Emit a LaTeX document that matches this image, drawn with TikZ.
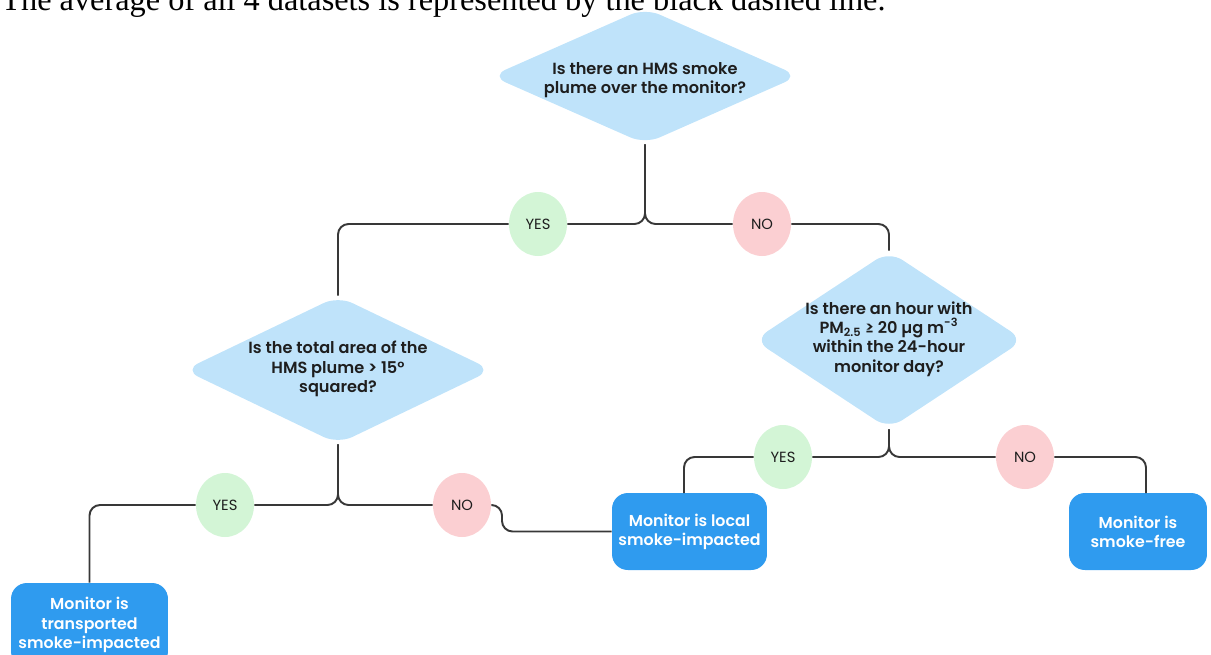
\documentclass[tikz,border=0pt]{standalone}
\usepackage{fontspec}
\setmainfont{Poppins}[BoldFont={Poppins SemiBold}]
\newfontfamily\serifA{Liberation Serif}
\usetikzlibrary{shapes.geometric}
\definecolor{diac}{HTML}{BFE3FA}
\definecolor{boxc}{HTML}{2F9BEF}
\definecolor{yesc}{HTML}{D3F5D6}
\definecolor{noc}{HTML}{FBCFD2}
\definecolor{lnc}{HTML}{383838}
\definecolor{txtc}{HTML}{1E1E1E}
\begin{document}
\begin{tikzpicture}[x=0.02cm,y=-0.02cm,
  dia/.style={diamond, fill=diac, draw=none, rounded corners=9pt, inner sep=0pt},
  qtext/.style={font=\bfseries\fontsize{9.2}{11}\selectfont, text=txtc, align=center, inner sep=0pt},
  endbox/.style={rectangle, fill=boxc, rounded corners=9pt, text=white, align=center,
     font=\bfseries\fontsize{9}{10.9}\selectfont, inner sep=0pt},
  lab/.style={ellipse, minimum width=1.16cm, minimum height=1.28cm, inner sep=0pt,
     font=\fontsize{8.4}{9}\selectfont, text=txtc},
  yeslab/.style={lab, fill=yesc},
  nolab/.style={lab, fill=noc},
  conn/.style={draw=lnc, line width=1.1pt, rounded corners=6pt}
]
\useasboundingbox (0,0) rectangle (1211,654);

% caption (cut off at the top)
\node[anchor=base west, inner sep=0pt, font=\serifA\fontsize{18.4}{20}\selectfont] (cap) at (1,10)
  {The average of all 4 datasets is represented by the black dashed line.};

% decisions
\node[dia, minimum width=6.16cm, minimum height=2.72cm] (q1) at (645,76) {};
\node[qtext] (q1t) at (645,80) {Is there an HMS smoke\\plume over the monitor?};

\node[dia, minimum width=6.16cm, minimum height=2.96cm] (q2) at (338,370) {};
\node[qtext] (q2t) at (338,369) {Is the total area of the\\HMS plume > 15°\\squared?};

\node[dia, minimum width=5.4cm, minimum height=3.56cm] (q3) at (889,340) {};
\node[qtext] (q3t) at (889,339) {Is there an hour with\\PM\textsubscript{2.5} ≥ 20 µg m\textsuperscript{-3}\\within the 24-hour\\monitor day?};

% labels
\node[yeslab] (y1) at (538,224) {YES};
\node[nolab] (n1) at (762,224) {NO};
\node[yeslab] (y2) at (225,505) {YES};
\node[nolab] (n2) at (462,505) {NO};
\node[yeslab] (y3) at (783,457) {YES};
\node[nolab] (n3) at (1025,457) {NO};

% outcomes
\node[endbox, minimum width=3.14cm, minimum height=1.68cm] (b1) at (89.5,625) {Monitor is\\transported\\smoke-impacted};
\node[endbox, minimum width=3.1cm, minimum height=1.54cm] (b2) at (689.5,531.5) {Monitor is local\\smoke-impacted};
\node[endbox, minimum width=2.76cm, minimum height=1.54cm] (b3) at (1138,531.5) {Monitor is\\smoke-free};

\coordinate (jog) at (502,505);
\coordinate (b2top) at (684,493);
\coordinate (b3top) at (1146,493);

% connectors
\draw[conn] (q1.south) |- (y1);
\draw[conn] (q1.south) |- (n1);
\draw[conn] (y1) -| (q2.north);
\draw[conn] (n1) -| (q3.north);
\draw[conn] (q2.south) |- (y2);
\draw[conn] (q2.south) |- (n2);
\draw[conn] (y2) -| (b1.north);
\draw[conn] (n2) -- (jog) |- (b2.west);
\draw[conn] (q3.south) |- (y3);
\draw[conn] (q3.south) |- (n3);
\draw[conn] (y3) -| (b2top);
\draw[conn] (n3) -| (b3top);
\end{tikzpicture}
\end{document}
